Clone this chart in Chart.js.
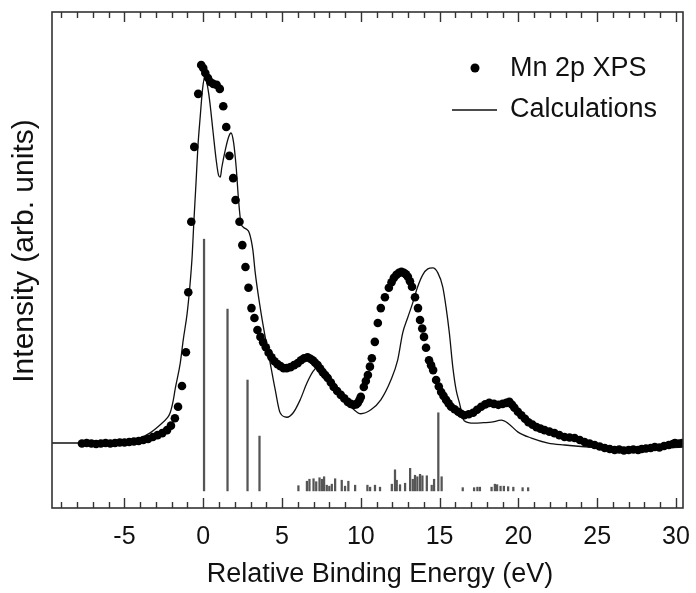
<!DOCTYPE html>
<html>
<head>
<meta charset="utf-8">
<script src="https://cdn.jsdelivr.net/npm/chart.js@4.4.1/dist/chart.umd.min.js"></script>
<style>
html,body{margin:0;padding:0;background:#fff;}
#wrap{width:696px;height:593px;position:relative;}
</style>
</head>
<body>
<div id="wrap"><canvas id="c" width="696" height="593"></canvas></div>
<script>
// ---- data ----
const xpsE = [-7.7,-7.4,-7.1,-6.8,-6.5,-6.2,-5.9,-5.6,-5.3,-5.0,-4.7,-4.4,-4.1,-3.8,-3.5,-3.2,-2.9,-2.6,-2.3,-2.05,-1.8,-1.6,-1.35,-1.1,-0.95,-0.76,-0.57,-0.32,-0.13,0.0,0.13,0.3,0.45,0.64,0.85,1.05,1.27,1.46,1.66,1.9,2.05,2.3,2.48,2.68,2.87,3.06,3.25,3.44,3.63,3.8,3.97,4.15,4.33,4.52,4.71,4.9,5.1,5.3,5.54,5.77,5.99,6.2,6.4,6.62,6.8,6.95,7.1,7.26,7.42,7.58,7.74,7.9,8.1,8.28,8.5,8.73,8.95,9.17,9.36,9.55,9.7,9.81,9.92,10.0,10.19,10.32,10.45,10.58,10.7,10.89,11.08,11.27,11.53,11.78,11.95,12.1,12.26,12.42,12.58,12.74,12.87,12.99,13.12,13.25,13.44,13.63,13.76,13.9,14.01,14.14,14.33,14.46,14.59,14.78,14.95,15.1,15.25,15.41,15.57,15.73,15.95,16.18,16.37,16.56,16.85,17.13,17.38,17.64,17.9,18.15,18.45,18.73,19.0,19.24,19.43,19.6,19.75,19.97,20.19,20.42,20.64,20.9,21.15,21.4,21.66,21.97,22.29,22.6,22.93,23.25,23.57,23.9,24.2,24.52,24.84,25.16,25.48,25.8,26.11,26.4,26.7,27.0,27.3,27.6,27.83,28.1,28.4,28.66,28.95,29.25,29.55,29.8,29.94,30.2,30.4];
const xpsI = [13.0,13.1,13.0,12.9,13.0,13.1,13.0,13.1,13.2,13.2,13.3,13.4,13.5,13.7,13.9,14.3,14.7,15.1,15.7,16.6,18.1,20.4,24.6,31.4,43.5,57.7,72.8,83.5,89.3,88.7,87.7,86.7,85.9,85.5,85.3,84.5,81.0,76.8,71.0,66.5,62.1,57.7,53.0,48.6,44.4,40.3,38.3,35.9,34.5,33.4,32.4,31.3,30.4,29.6,29.0,28.6,28.2,28.2,28.4,28.8,29.2,29.8,30.2,30.4,30.1,29.8,29.3,28.8,28.1,27.4,26.8,26.2,25.3,24.4,23.6,22.8,22.1,21.4,21.0,20.8,20.9,21.2,21.8,22.4,24.4,25.6,26.8,28.5,30.2,33.5,37.3,40.3,42.5,44.4,45.5,46.4,47.0,47.4,47.6,47.4,47.1,46.6,45.7,44.6,42.5,40.3,37.9,36.2,34.5,32.3,29.8,28.8,27.8,25.8,24.5,23.4,22.6,21.8,21.1,20.4,19.9,19.4,19.0,18.7,18.9,19.2,19.8,20.4,20.9,21.2,21.0,20.8,21.0,21.2,21.4,20.8,20.2,19.4,18.7,18.0,17.3,16.8,16.3,16.0,15.7,15.4,15.1,14.7,14.3,14.2,14.1,13.7,13.3,13.0,12.7,12.4,12.1,11.9,11.7,11.8,11.6,11.7,11.8,11.7,11.9,12.0,12.1,12.3,12.2,12.5,12.7,12.9,13.1,13.0,13.1];

const calcE = [-9.6,-7,-6,-5,-4.5,-4,-3.4,-2.8,-2.3,-2.1,-1.91,-1.78,-1.46,-1.27,-1.02,-0.83,-0.7,-0.6,-0.46,-0.34,-0.19,-0.05,0.1,0.23,0.4,0.61,0.82,0.97,1.08,1.18,1.4,1.61,1.76,1.92,2.09,2.24,2.39,2.55,2.75,2.93,3.15,3.3,3.61,3.93,4.25,4.57,4.88,5.31,5.71,6.15,6.58,6.98,7.2,7.5,8.0,8.5,9.0,9.5,10.0,10.64,11.27,11.91,12.34,12.66,12.97,13.29,13.61,13.93,14.25,14.57,14.89,15.2,15.41,15.62,15.84,16.05,16.26,16.56,17.2,17.8,18.28,18.92,19.34,19.98,20.83,21.89,22.93,24.0,25.5,27,28.5,30.45];
const calcI = [13.1,13.1,13.1,13.3,13.6,14.1,15.1,16.6,18.1,19.2,21.6,24.0,29.2,33.9,39.3,45.4,51.0,57.5,65.5,72.8,79.0,84.3,87.0,85.7,82.3,76.2,70.2,67.1,66.7,68.7,72.2,74.8,75.6,73.8,68.7,62.1,57.5,56.6,56.2,55.4,52.0,47.4,40.5,34.5,29.2,23.8,19.2,18.3,19.2,21.8,25.2,27.6,28.2,27.2,25.2,23.2,21.4,20.0,19.0,19.8,21.8,25.8,29.8,35.3,38.3,41.3,44.6,47.0,48.2,48.4,47.4,44.6,40.5,35.3,28.4,23.8,21.2,17.6,17.1,17.2,17.3,17.7,17.1,15.3,14.1,13.1,12.7,12.4,12.1,11.9,12.0,12.3];

const stickE = [0.05,1.54,2.81,3.57,14.92,6.04,6.58,6.74,7.0,7.17,7.38,7.53,7.67,7.84,8.0,8.16,8.37,8.79,9.0,9.21,9.64,10.42,10.59,10.9,11.22,11.97,12.17,12.28,12.49,12.81,13.13,13.3,13.44,13.59,13.76,13.91,14.19,14.5,14.65,15.13,16.47,17.19,17.4,17.56,18.3,18.51,18.65,18.87,19.08,19.35,19.68,20.27,20.62];
const stickI = [54.2,40.1,25.8,14.5,19.2,4.5,5.4,5.8,5.9,5.3,6.1,5.8,6.3,4.6,4.4,4.8,5.9,5.6,4.4,5.4,4.6,4.6,4.2,4.6,4.2,4.8,7.7,5.6,4.7,5.0,8.0,5.8,6.6,6.3,6.8,6.5,6.5,4.6,5.8,6.3,4.1,4.1,4.2,4.2,4.2,4.8,4.7,4.4,4.4,4.3,4.2,4.1,4.1];
const stickBase = 3.45;

const xTickLabels = [-5, 0, 5, 10, 15, 20, 25, 30];
const xRange = [-9.6, 30.45];
const yRange = [0, 100];
const seriesNames = ['Mn 2p XPS', 'Calculations'];
const xTitle = 'Relative Binding Energy (eV)';
const yTitle = 'Intensity (arb. units)';

const FONT = '"Liberation Sans", Arial, Helvetica, sans-serif';
const INK = '#111';

const decor = {
  id: 'decor',
  afterDraw(chart) {
    const {ctx, chartArea: a, scales: {x}} = chart;
    ctx.save();
    // frame
    ctx.strokeStyle = '#333';
    ctx.lineWidth = 1.6;
    ctx.strokeRect(a.left, a.top, a.right - a.left, a.bottom - a.top);
    // inward ticks top and bottom
    ctx.lineWidth = 1.4;
    ctx.beginPath();
    for (let v = Math.ceil(x.min); v <= Math.floor(x.max); v++) {
      const px = Math.round(x.getPixelForValue(v)) + 0.5;
      const len = (v % 5 === 0) ? 10 : 6;
      ctx.moveTo(px, a.bottom); ctx.lineTo(px, a.bottom - len);
      ctx.moveTo(px, a.top); ctx.lineTo(px, a.top + len);
    }
    ctx.stroke();

    // legend
    ctx.fillStyle = '#000';
    ctx.beginPath();
    ctx.arc(475, 68, 4.5, 0, Math.PI * 2);
    ctx.fill();
    ctx.strokeStyle = INK;
    ctx.lineWidth = 1.3;
    ctx.beginPath();
    ctx.moveTo(452, 110); ctx.lineTo(497, 110);
    ctx.stroke();
    ctx.fillStyle = INK;
    ctx.font = '27px ' + FONT;
    ctx.textAlign = 'left';
    ctx.textBaseline = 'alphabetic';
    ctx.fillText(seriesNames[0], 510, 76);
    ctx.fillText(seriesNames[1], 510, 117);

    // axis titles
    ctx.textAlign = 'center';
    ctx.font = '27px ' + FONT;
    ctx.fillText(xTitle, 380, 582);
    ctx.save();
    ctx.translate(33, 251);
    ctx.rotate(-Math.PI / 2);
    ctx.font = '30px ' + FONT;
    ctx.fillText(yTitle, 0, 0);
    ctx.restore();
    ctx.restore();
  }
};

new Chart(document.getElementById('c'), {
  type: 'scatter',
  data: {
    datasets: [
      {
        type: 'scatter',
        label: seriesNames[0],
        data: xpsE.map((e, i) => ({x: e, y: xpsI[i]})),
        backgroundColor: '#000',
        borderWidth: 0,
        pointRadius: 4.3,
        pointHoverRadius: 4.3,
        order: 1
      },
      {
        type: 'line',
        label: seriesNames[1],
        data: calcE.map((e, i) => ({x: e, y: calcI[i]})),
        borderColor: INK,
        borderWidth: 1.3,
        pointRadius: 0,
        fill: false,
        cubicInterpolationMode: 'monotone',
        order: 2
      },
      {
        type: 'bar',
        label: 'sticks',
        data: stickE.map((e, i) => ({x: e, y: [stickBase, stickI[i]]})),
        backgroundColor: '#555',
        borderWidth: 0,
        barThickness: 1.6,
        grouped: false,
        order: 3
      }
    ]
  },
  options: {
    responsive: false,
    animation: false,
    events: [],
    layout: {padding: {left: 0, right: 13, top: 12, bottom: 0}},
    plugins: {legend: {display: false}, tooltip: {enabled: false}, title: {display: false}},
    scales: {
      x: {
        type: 'linear',
        min: xRange[0], max: xRange[1],
        offset: false,
        afterBuildTicks: s => { s.ticks = xTickLabels.map(v => ({value: v})); },
        afterFit: s => { s.height = 85; s.paddingLeft = 0; s.paddingRight = 0; },
        grid: {display: false, drawTicks: false, offset: false},
        border: {display: false},
        ticks: {font: {family: FONT, size: 25}, color: INK, padding: 14, maxRotation: 0, autoSkip: false}
      },
      y: {
        type: 'linear',
        min: yRange[0], max: yRange[1],
        afterFit: s => { s.width = 52; s.paddingTop = 0; s.paddingBottom = 0; },
        grid: {display: false},
        border: {display: false},
        ticks: {display: false}
      }
    }
  },
  plugins: [decor]
});
</script>
</body>
</html>
